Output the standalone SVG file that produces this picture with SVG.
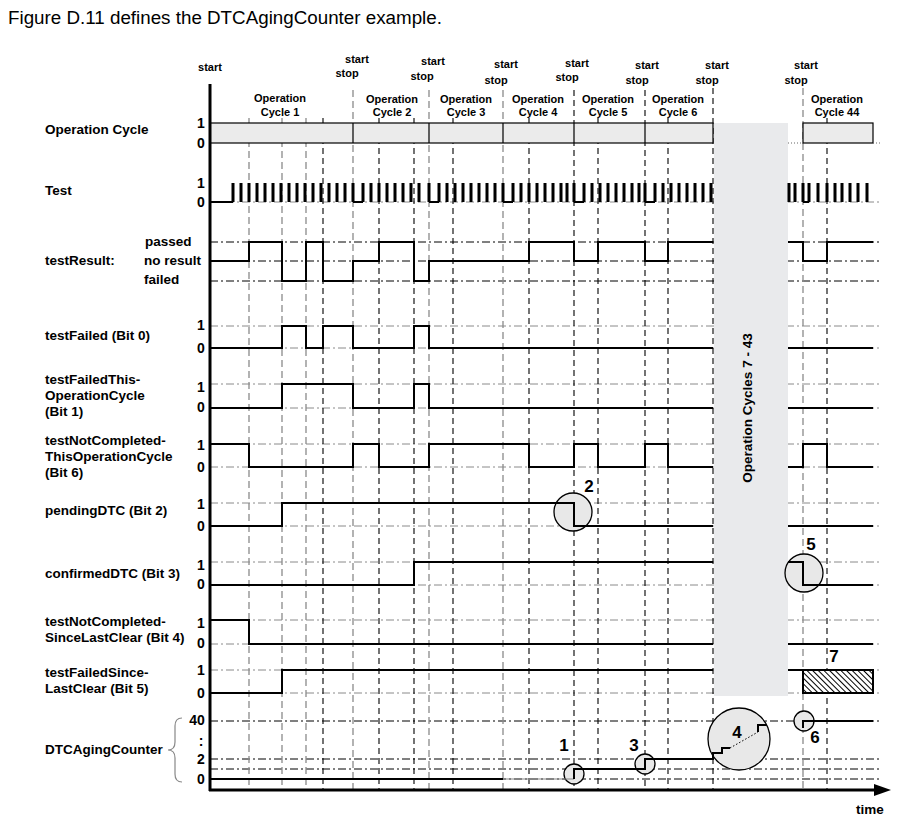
<svg xmlns="http://www.w3.org/2000/svg" width="903" height="821" viewBox="0 0 903 821">
<defs>
<style>
text{font-family:"Liberation Sans",Arial,sans-serif;fill:#000}
.lbl{font-size:13.5px;font-weight:bold}
.num{font-size:14px;font-weight:bold;text-anchor:middle}
.top{font-size:11px;font-weight:bold;text-anchor:middle}
.big{font-size:17px;font-weight:bold;text-anchor:middle}
.ref{stroke:#8a8a8a;stroke-width:1;stroke-dasharray:8 3 2 3;fill:none}
.refk{stroke:#000;stroke-width:1;stroke-dasharray:8 3 2 3;fill:none}
.vg{stroke:#8a8a8a;stroke-width:1.3;stroke-dasharray:7 4;fill:none}
.vk{stroke:#000;stroke-width:1.1;stroke-dasharray:6 4;fill:none}
.sig{stroke:#000;stroke-width:2;fill:none}
.circ{fill:#e8e8e8;stroke:#000;stroke-width:1.3}
</style>
<pattern id="hatch" patternUnits="userSpaceOnUse" width="4" height="4" patternTransform="rotate(-45)">
<rect width="4" height="4" fill="#fff"/>
<line x1="0.5" y1="0" x2="0.5" y2="4" stroke="#000" stroke-width="1"/>
</pattern>
</defs>
<rect width="903" height="821" fill="#fff"/>
<text x="8" y="24" style="font-size:18.8px">Figure D.11 defines the DTCAgingCounter example.</text>

<g id="top-labels">
<text class="top" x="210" y="71">start</text>
<text class="top" x="357" y="63">start</text><text class="top" x="347" y="77">stop</text>
<text class="top" x="433" y="65">start</text><text class="top" x="422" y="80">stop</text>
<text class="top" x="506" y="68">start</text><text class="top" x="496" y="84">stop</text>
<text class="top" x="577" y="67">start</text><text class="top" x="567" y="81">stop</text>
<text class="top" x="647" y="69">start</text><text class="top" x="637" y="84">stop</text>
<text class="top" x="717" y="69">start</text><text class="top" x="707" y="84">stop</text>
<text class="top" x="806" y="69">start</text><text class="top" x="796" y="84">stop</text>
<text class="top" x="280" y="102">Operation</text><text class="top" x="280" y="116">Cycle 1</text>
<text class="top" x="392" y="103">Operation</text><text class="top" x="392" y="116">Cycle 2</text>
<text class="top" x="466" y="103">Operation</text><text class="top" x="466" y="116">Cycle 3</text>
<text class="top" x="538" y="103">Operation</text><text class="top" x="538" y="116">Cycle 4</text>
<text class="top" x="608" y="103">Operation</text><text class="top" x="608" y="116">Cycle 5</text>
<text class="top" x="678" y="103">Operation</text><text class="top" x="678" y="116">Cycle 6</text>
<text class="top" x="837" y="103">Operation</text><text class="top" x="837" y="116">Cycle 44</text>
</g>

<g id="reference-lines">
<path class="ref" d="M210,202H880 M210,326H880 M210,348H880 M210,384H880 M210,408H880 M210,444H880 M210,467H880 M210,503H880 M210,526H880 M210,562H880 M210,585H880 M210,620H880 M210,644H880 M210,670H880 M210,693H880"/>
<path class="refk" d="M210,242H880 M210,261H880 M210,281H880 M210,721H880 M210,759H880 M210,769H880 M210,779H880"/>
</g>

<g id="connectors">
<path class="vg" d="M249,118V790 M282,118V790 M306,118V790 M353,90V790 M429,90V790 M503,90V790 M803,88V790"/>
<path class="vk" d="M323,118V790 M379,118V790 M414,118V790 M453,118V790 M529,118V790 M574,90V790 M598,118V790 M645,90V790 M668,118V790 M827,118V790"/>
</g>

<g id="gap">
<rect x="714" y="123" width="74" height="573" fill="#e9eaec"/>
<path class="vk" d="M713,88V790"/>
<text transform="translate(752,408) rotate(-90)" style="font-size:13.5px;font-weight:bold;text-anchor:middle">Operation Cycles 7 - 43</text>
</g>

<g id="operation-cycle">
<rect x="210" y="123" width="503" height="20" fill="#ebebeb" stroke="#000" stroke-width="1.2"/>
<path d="M353,123V143 M429,123V143 M503,123V143 M574,123V143 M645,123V143" stroke="#000" stroke-width="1.2"/>
<rect x="803" y="123" width="70" height="20" fill="#ebebeb" stroke="#000" stroke-width="1.2"/>
<path d="M788,143H803 M873,143H882" stroke="#666" stroke-width="1" stroke-dasharray="1 2"/>
</g>

<g id="test">
<path d="M210,202H233 M353,202H363 M429,202H439 M503,202H513 M574,202H584 M645,202H655 M803,202H809" class="sig"/>
<path stroke="#000" stroke-width="3" fill="none" d="M233,183V202 M241,183V202 M249,183V202 M257,183V202 M265,183V202 M273,183V202 M281,183V202 M289,183V202 M297,183V202 M305,183V202 M313,183V202 M321,183V202 M329,183V202 M337,183V202 M345,183V202 M353,183V202 M363,183V202 M371,183V202 M379,183V202 M387,183V202 M395,183V202 M403,183V202 M411,183V202 M419,183V202 M429,183V202 M439,183V202 M447,183V202 M455,183V202 M463,183V202 M471,183V202 M479,183V202 M487,183V202 M495,183V202 M503,183V202 M513,183V202 M521,183V202 M529,183V202 M537,183V202 M545,183V202 M553,183V202 M561,183V202 M567,183V202 M574,183V202 M584,183V202 M592,183V202 M600,183V202 M608,183V202 M616,183V202 M624,183V202 M632,183V202 M639,183V202 M645,183V202 M655,183V202 M663,183V202 M671,183V202 M679,183V202 M687,183V202 M695,183V202 M703,183V202 M711,183V202 M789,183V202 M795,183V202 M803,183V202 M809,183V202 M818,183V202 M827,183V202 M835,183V202 M842,183V202 M850,183V202 M858,183V202 M867,183V202"/>
</g>

<g id="circles">
<circle class="circ" cx="573" cy="512" r="19"/>
<circle class="circ" cx="804" cy="573" r="19"/>
<circle class="circ" cx="574" cy="774" r="10"/>
<circle class="circ" cx="645" cy="764" r="10"/>
<circle class="circ" cx="739" cy="739" r="31"/>
<circle class="circ" cx="804" cy="721" r="10"/>
</g>

<g id="testResult"><path class="sig" d="M210,261H249V242H282V281H306V242H323V281H353V261H379V242H414V281H429V261H529V242H574V261H598V242H645V261H668V242H713 M788,242H803V261H827V242H873"/></g>
<g id="testFailed"><path class="sig" d="M210,348H282V326H306V348H323V326H353V348H414V326H429V348H713 M788,348H873"/></g>
<g id="testFailedThisOperationCycle"><path class="sig" d="M210,408H282V384H353V408H414V384H429V408H713 M788,408H873"/></g>
<g id="testNotCompletedThisOperationCycle"><path class="sig" d="M210,444H249V467H353V444H379V467H429V444H529V467H574V444H598V467H645V444H668V467H713 M788,467H803V444H827V467H873"/></g>
<g id="pendingDTC"><path class="sig" d="M210,526H282V503H574V526H713 M788,526H873"/></g>
<g id="confirmedDTC"><path class="sig" d="M210,585H414V562H713 M788,562H803V585H873"/></g>
<g id="testNotCompletedSinceLastClear"><path class="sig" d="M210,620H249V644H713 M788,644H873"/></g>
<g id="testFailedSinceLastClear"><path class="sig" d="M210,693H282V670H713 M788,670H803"/>
<rect x="803" y="670" width="70" height="23" fill="url(#hatch)" stroke="#000" stroke-width="2"/></g>
<g id="DTCAgingCounter">
<path class="sig" d="M210,779H503"/>
<path d="M503,779H574" stroke="#888" stroke-width="1.2" fill="none"/>
<path class="sig" d="M574,779V769H645V759H713V753H722V748H730 M758,732V725H767 M803,728V721H873"/>
<path d="M730,748L758,732" stroke="#000" stroke-width="1" stroke-dasharray="1.5 2" fill="none"/>
</g>

<g id="annotations">
<text class="big" x="589" y="492">2</text>
<text class="big" x="811" y="550">5</text>
<text class="big" x="834" y="662">7</text>
<text class="big" x="564" y="751">1</text>
<text class="big" x="634" y="751">3</text>
<text class="big" x="737" y="738">4</text>
<text class="big" x="815" y="743">6</text>
</g>

<g id="axes">
<path d="M210,84V791 M209,790H876" stroke="#000" stroke-width="3" fill="none"/>
<polygon points="874,784 891,790 874,796" fill="#000"/>
<text x="856" y="814" class="lbl">time</text>
</g>

<g id="row-labels">
<text class="lbl" x="45" y="134">Operation Cycle</text>
<text class="num" x="201" y="128">1</text><text class="num" x="201" y="148">0</text>
<text class="lbl" x="45" y="195">Test</text>
<text class="num" x="201" y="188">1</text><text class="num" x="201" y="207">0</text>
<text class="lbl" x="45" y="265">testResult:</text>
<text class="lbl" x="145" y="246">passed</text>
<text class="lbl" x="144" y="265">no result</text>
<text class="lbl" x="144" y="284">failed</text>
<text class="lbl" x="45" y="340">testFailed (Bit 0)</text>
<text class="num" x="201" y="330">1</text><text class="num" x="201" y="353">0</text>
<text class="lbl" x="45" y="384">testFailedThis-</text>
<text class="lbl" x="45" y="400">OperationCycle</text>
<text class="lbl" x="45" y="416">(Bit 1)</text>
<text class="num" x="201" y="392">1</text><text class="num" x="201" y="412">0</text>
<text class="lbl" x="45" y="445">testNotCompleted-</text>
<text class="lbl" x="45" y="461">ThisOperationCycle</text>
<text class="lbl" x="45" y="477">(Bit 6)</text>
<text class="num" x="201" y="450">1</text><text class="num" x="201" y="472">0</text>
<text class="lbl" x="45" y="515">pendingDTC (Bit 2)</text>
<text class="num" x="201" y="509">1</text><text class="num" x="201" y="531">0</text>
<text class="lbl" x="45" y="578">confirmedDTC (Bit 3)</text>
<text class="num" x="201" y="570">1</text><text class="num" x="201" y="589">0</text>
<text class="lbl" x="45" y="626">testNotCompleted-</text>
<text class="lbl" x="45" y="642">SinceLastClear (Bit 4)</text>
<text class="num" x="201" y="628">1</text><text class="num" x="201" y="648">0</text>
<text class="lbl" x="45" y="677">testFailedSince-</text>
<text class="lbl" x="45" y="693">LastClear (Bit 5)</text>
<text class="num" x="201" y="675">1</text><text class="num" x="201" y="698">0</text>
<text class="lbl" x="45" y="754">DTCAgingCounter</text>
<path d="M182,718Q175,718 175,726V742Q175,750 168,750Q175,750 175,758V774Q175,782 182,782" stroke="#888" stroke-width="1.2" fill="none"/>
<text class="num" x="197" y="725">40</text>
<text class="num" x="201" y="746">:</text>
<text class="num" x="201" y="764">2</text>
<text class="num" x="201" y="784">0</text>
</g>
</svg>
